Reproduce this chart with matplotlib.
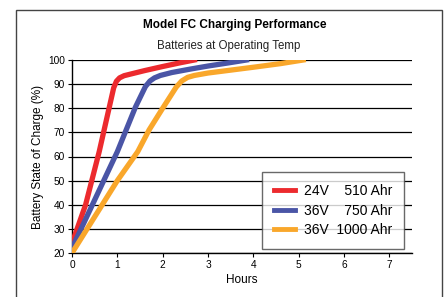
import matplotlib.pyplot as plt
from matplotlib.patches import Rectangle

plt.rcParams['font.family'] = ['Liberation Sans Narrow', 'Liberation Sans', 'DejaVu Sans']

# Data
red_x = [0, 0.3, 0.6, 0.92, 0.98, 1.05, 1.15, 1.3, 1.6, 2.0, 2.4, 2.7]
red_y = [24, 40, 62, 88.5, 91.2, 92.6, 93.5, 94.2, 95.6, 97.3, 98.9, 100]
blue_x = [0, 0.5, 1.0, 1.4, 1.62, 1.72, 1.82, 1.95, 2.2, 2.6, 3.0, 3.45, 3.85]
blue_y = [22, 42, 62, 80.5, 89, 91.3, 92.6, 93.6, 94.8, 96.2, 97.5, 98.8, 100]
orange_x = [0, 0.5, 1.0, 1.45, 1.7, 2.0, 2.3, 2.42, 2.55, 2.7, 3.0, 3.5, 4.0, 4.6, 5.1]
orange_y = [20, 35, 50, 62, 71, 80, 88.8, 91.3, 92.8, 93.6, 94.6, 95.8, 97, 98.5, 100]
labels = ['24V    510 Ahr', '36V    750 Ahr', '36V  1000 Ahr']
colors = ['#ec2a2e', '#4a55a6', '#f9a72b']

fig = plt.figure(figsize=(4.45, 2.97), dpi=100)
ax = fig.add_axes([72/445, 1-253/297, 340/445, 193/297])

# outer frame
fig.patches.append(Rectangle((16/445, -0.02), 426/445, 1.02-10/297,
                             transform=fig.transFigure, fill=False,
                             edgecolor='#444444', linewidth=1.0))

lw = 3.8
ax.plot(red_x, red_y, color=colors[0], lw=lw, label=labels[0], solid_joinstyle='round', zorder=3)
ax.plot(blue_x, blue_y, color=colors[1], lw=lw, label=labels[1], solid_joinstyle='round', zorder=3)
ax.plot(orange_x, orange_y, color=colors[2], lw=lw, label=labels[2], solid_joinstyle='round', zorder=3)

ax.set_xlim(0, 7.5)
ax.set_ylim(20, 100)
ax.set_xticks(range(0, 8))
ax.set_yticks(range(20, 101, 10))
ax.yaxis.grid(True, color='black', lw=0.9)
ax.set_axisbelow(True)
for s in ['top', 'right']:
    ax.spines[s].set_visible(False)
ax.spines['left'].set_linewidth(1.0)
ax.spines['bottom'].set_linewidth(1.0)
ax.tick_params(labelsize=7.3, length=3, width=0.8, pad=2)

ax.set_xlabel('Hours', fontsize=8.5, labelpad=3)
ax.set_ylabel('Battery State of Charge (%)', fontsize=8.5, labelpad=3)

fig.text(235/445, 1-25/297, 'Model FC Charging Performance', ha='center', va='center',
         fontsize=8.5, fontweight='bold')
fig.text(229/445, 1-46/297, 'Batteries at Operating Temp', ha='center', va='center',
         fontsize=8.3, color='#222222')

leg = ax.legend(loc='lower right', bbox_to_anchor=(332/340, 4/193), fontsize=10,
                frameon=True, fancybox=False, handlelength=1.5, borderpad=0.85,
                labelspacing=0.4, handletextpad=0.65, borderaxespad=0)
leg.get_frame().set_edgecolor('#444444')
leg.get_frame().set_linewidth(1.0)
for h in leg.get_lines():
    h.set_linewidth(3.5)

fig.savefig('out.png', dpi=100)
